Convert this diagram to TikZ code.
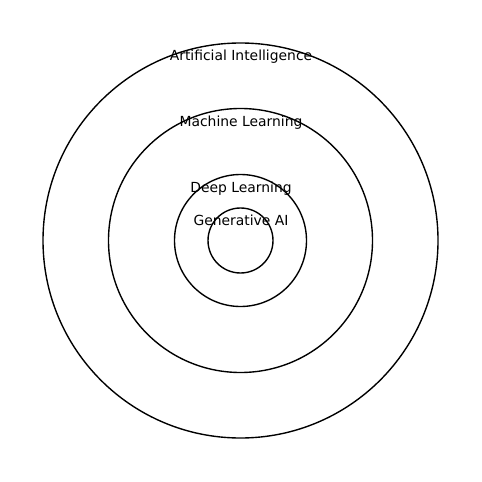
\documentclass[tikz,border=0pt]{standalone}
\usepackage{fontspec}
\setmainfont{DejaVu Sans}
\begin{document}
\begin{tikzpicture}[x=0.72pt,y=-0.72pt,
  ring/.style={circle,draw=black,line width=1pt,inner sep=0pt,fill=none},
  lbl/.style={anchor=base,inner sep=0pt,font=\fontsize{10pt}{12pt}\selectfont}]
\useasboundingbox (0,0) rectangle (481,482);
\coordinate (c) at (240.5,240.5);
\node[ring,minimum size=395*0.72pt] (ai) at (c) {};
\node[ring,minimum size=264*0.72pt] (ml) at (c) {};
\node[ring,minimum size=132*0.72pt] (dl) at (c) {};
\node[ring,minimum size=65*0.72pt] (gen) at (c) {};
\node[lbl] (tai) at (241,61) {Artificial Intelligence};
\node[lbl] (tml) at (241,127) {Machine Learning};
\node[lbl] (tdl) at (241,193) {Deep Learning};
\node[lbl] (tgen) at (241,226) {Generative AI};
\end{tikzpicture}
\end{document}
